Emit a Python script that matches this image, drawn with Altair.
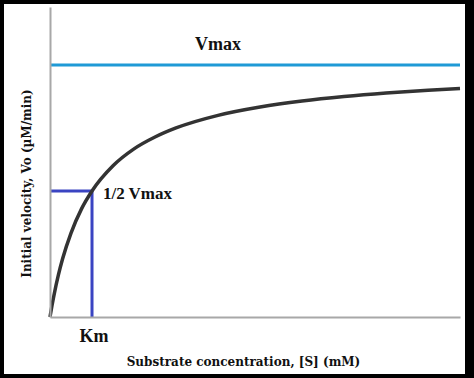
import altair as alt
import pandas as pd

# Curve (Km = 1, Vmax = 1)
s_vals = [0, 0.05, 0.1, 0.2, 0.3, 0.5, 0.75, 1.0, 1.5, 2.0, 2.5, 3.0, 4.0, 5.0, 6.0, 7.0, 8.0, 9.0, 9.76]
v_vals = [0, 0.048, 0.091, 0.167, 0.231, 0.333, 0.429, 0.50, 0.60, 0.667, 0.714, 0.75, 0.80, 0.833, 0.857, 0.875, 0.889, 0.90, 0.907]

x_max = 9.76
y_max = 1.23
vmax = 1.0
km = 1.0
half = 0.5

x_title = "Substrate concentration, [S] (mM)"
y_title = "Initial velocity, Vo (µM/min)"

curve = pd.DataFrame({"s": s_vals, "v": v_vals})
vmax_df = pd.DataFrame({"s": [0.0], "s2": [x_max], "v": [vmax]})
half_h = pd.DataFrame({"s": [0.0], "s2": [km], "v": [half]})
half_v = pd.DataFrame({"s": [km], "v": [0.0], "v2": [half]})
lab_vmax = pd.DataFrame({"s": [4.0], "v": [1.08], "t": ["Vmax"]})
lab_half = pd.DataFrame({"s": [1.26], "v": [0.49], "t": ["1/2 Vmax"]})
lab_km = pd.DataFrame({"s": [1.05], "v": [-0.08], "t": ["Km"]})

xs = alt.Scale(domain=[0, x_max], nice=False, zero=False)
ys = alt.Scale(domain=[0, y_max], nice=False, zero=False)

FONT = "Liberation Serif"
TFONT = "DejaVu Serif"

X = alt.X("s:Q", scale=xs, axis=alt.Axis(
    title=x_title, labels=False, ticks=False, grid=False,
    domainColor="#a8a8a8", domainWidth=2, zindex=1,
    titleFont=TFONT, titleFontSize=12, titleFontWeight="bold", titleColor="#111111",
    titleX=193, titleY=48, titleAlign="center", titleBaseline="alphabetic"))
Y = alt.Y("v:Q", scale=ys, axis=alt.Axis(
    title=y_title, labels=False, ticks=False, grid=False,
    domainColor="#a8a8a8", domainWidth=2, zindex=1,
    titleFont=TFONT, titleFontSize=12, titleFontWeight="bold", titleColor="#111111",
    titleX=-24, titleY=176, titleAlign="center", titleBaseline="middle", titleAngle=270))

frame = alt.Chart(pd.DataFrame({"a": [0]})).mark_rect(fill="white").encode(
    x=alt.value(-46), x2=alt.value(415), y=alt.value(-3), y2=alt.value(367))

line = alt.Chart(curve).mark_line(color="#333333", strokeWidth=3.5, interpolate="monotone").encode(x=X, y=Y)

vmax_rule = alt.Chart(vmax_df).mark_rule(color="#1f9ad6", strokeWidth=3).encode(
    x=alt.X("s:Q", scale=xs), x2="s2:Q", y=alt.Y("v:Q", scale=ys))
hh = alt.Chart(half_h).mark_rule(color="#3a44c2", strokeWidth=3).encode(
    x=alt.X("s:Q", scale=xs), x2="s2:Q", y=alt.Y("v:Q", scale=ys))
hv = alt.Chart(half_v).mark_rule(color="#3a44c2", strokeWidth=3).encode(
    x=alt.X("s:Q", scale=xs), y=alt.Y("v:Q", scale=ys), y2="v2:Q")

t1 = alt.Chart(lab_vmax).mark_text(font=FONT, fontSize=18, fontWeight="bold", align="center", baseline="middle", color="#111111").encode(
    x=alt.X("s:Q", scale=xs), y=alt.Y("v:Q", scale=ys), text="t:N")
t2 = alt.Chart(lab_half).mark_text(font=FONT, fontSize=17, fontWeight="bold", align="left", baseline="middle", color="#111111").encode(
    x=alt.X("s:Q", scale=xs), y=alt.Y("v:Q", scale=ys), text="t:N")
t3 = alt.Chart(lab_km).mark_text(font=FONT, fontSize=18, fontWeight="bold", align="center", baseline="middle", color="#111111").encode(
    x=alt.X("s:Q", scale=xs), y=alt.Y("v:Q", scale=ys), text="t:N")

chart = alt.layer(frame, vmax_rule, hh, hv, line, t1, t2, t3).properties(
    width=410, height=310,
    autosize=alt.AutoSizeParams(type="none"),
    padding={"left": 50, "top": 7, "right": 14, "bottom": 61},
    background="black",
).configure_view(stroke=None)

chart.save("out.html", embed_options={"renderer": "svg", "actions": False})
